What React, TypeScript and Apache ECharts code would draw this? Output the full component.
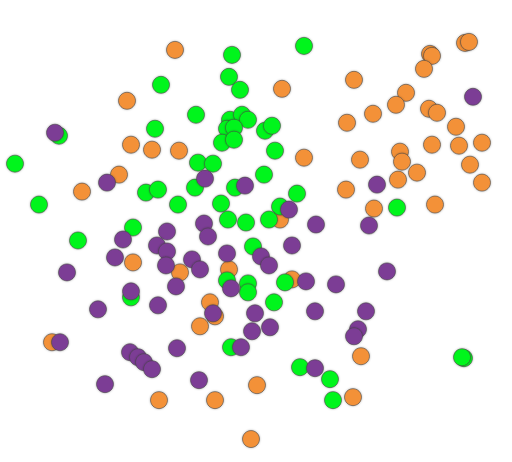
import React, { useEffect, useRef } from "react";
import * as echarts from "echarts";

// Values (x to the right, y downward)
const orangeX = [175, 127, 131, 152, 179, 119, 82, 282, 354, 465, 469, 430, 432, 424, 406, 396, 373, 347, 429, 437, 456, 432, 459, 482, 400, 402, 304, 360, 470, 417, 398, 482, 346, 374, 435, 280, 133, 180, 229, 292, 210, 215, 200, 52, 361, 353, 159, 215, 257, 251];
const orangeY = [49, 100, 144, 149, 150, 174, 191, 88, 79, 42, 41, 53, 55, 68, 92, 104, 113, 122, 108, 112, 126, 144, 145, 142, 151, 161, 157, 159, 164, 172, 179, 182, 189, 208, 204, 219, 262, 272, 269, 279, 302, 316, 326, 342, 356, 397, 400, 400, 385, 439];

const greenX = [232, 229, 240, 161, 196, 230, 242, 248, 227, 234, 222, 234, 265, 272, 304, 59, 155, 15, 198, 213, 275, 146, 158, 195, 235, 264, 297, 280, 269, 39, 178, 221, 133, 228, 246, 78, 253, 227, 248, 248, 131, 285, 274, 231, 397, 464, 462, 300, 330, 333];
const greenY = [54, 76, 89, 84, 114, 119, 114, 119, 128, 127, 142, 139, 130, 125, 45, 135, 128, 163, 162, 163, 150, 192, 189, 187, 187, 174, 193, 206, 219, 204, 204, 203, 227, 219, 222, 240, 246, 280, 283, 292, 297, 282, 302, 347, 207, 358, 357, 367, 379, 400];

const purpleX = [55, 107, 205, 245, 167, 204, 208, 123, 157, 167, 115, 166, 192, 200, 227, 261, 67, 176, 231, 131, 98, 158, 213, 255, 252, 60, 130, 138, 144, 152, 177, 241, 105, 199, 473, 377, 289, 316, 369, 292, 269, 306, 336, 387, 270, 315, 366, 358, 354, 315];
const purpleY = [132, 182, 178, 185, 231, 223, 236, 239, 245, 251, 257, 265, 259, 269, 253, 256, 272, 286, 288, 291, 309, 305, 313, 313, 331, 342, 352, 357, 362, 369, 348, 347, 384, 380, 96, 184, 209, 224, 225, 245, 265, 281, 284, 271, 327, 311, 311, 329, 336, 368];

const zip = (xs: number[], ys: number[]) => xs.map((x, i) => [x, ys[i]]);

export default function App() {
  const ref = useRef<HTMLDivElement>(null);
  useEffect(() => {
    if (!ref.current) return;
    const chart = echarts.init(ref.current, null, { renderer: "svg" });
    const itemStyle = (color: string) => ({
      color,
      opacity: 1,
      borderColor: "#444",
      borderWidth: 0.6,
      shadowBlur: 2,
      shadowColor: "rgba(0,0,0,0.3)",
    });
    chart.setOption({
      animation: false,
      grid: { left: 0, right: 0, top: 1, bottom: -1 },
      xAxis: { type: "value", min: 0, max: 512, show: false },
      yAxis: { type: "value", min: 0, max: 462, inverse: true, show: false },
      series: [
        { type: "scatter", symbolSize: 17, data: zip(orangeX, orangeY), itemStyle: itemStyle("#f39139") },
        { type: "scatter", symbolSize: 17, data: zip(greenX, greenY), itemStyle: itemStyle("#05f51d") },
        { type: "scatter", symbolSize: 17, data: zip(purpleX, purpleY), itemStyle: itemStyle("#7c3d95") },
      ],
    });
    return () => chart.dispose();
  }, []);
  return (
    <div
      ref={ref}
      style={{ position: "fixed", left: 0, top: 0, width: 512, height: 462, background: "#fff" }}
    />
  );
}
